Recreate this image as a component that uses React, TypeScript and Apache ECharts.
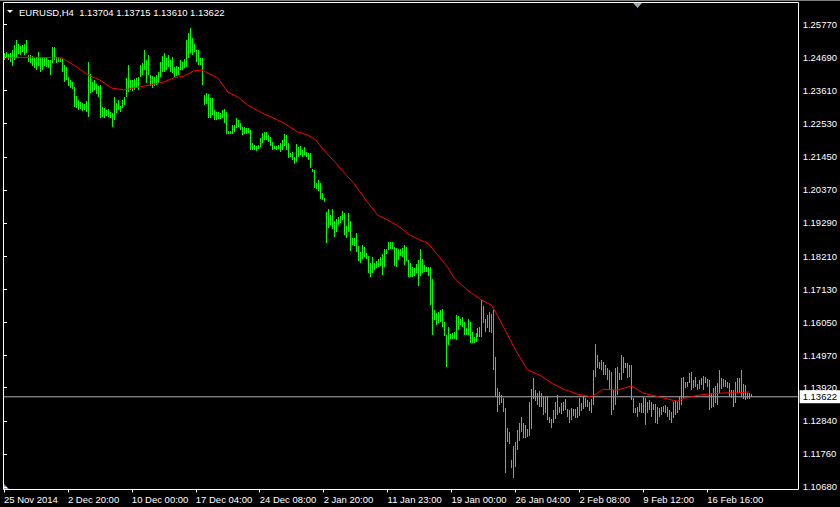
import React, { useEffect, useRef } from "react";
import * as echarts from "echarts";

// H4 bar highs (one per bar, bar index = position in array)
const highs = [
  1.2483, 1.2486, 1.2480, 1.2483, 1.2493, 1.2509, 1.2526, 1.2513, 1.2506, 1.2509,
  1.2513, 1.2526, 1.2477, 1.2477, 1.2473, 1.2467, 1.2470, 1.2486, 1.2467, 1.2467,
  1.2470, 1.2470, 1.2460, 1.2460, 1.2503, 1.2503, 1.2470, 1.2470, 1.2467, 1.2467,
  1.2444, 1.2438, 1.2405, 1.2395, 1.2389, 1.2372, 1.2343, 1.2330, 1.2323, 1.2320,
  1.2317, 1.2327, 1.2454, 1.2415, 1.2389, 1.2395, 1.2382, 1.2376, 1.2379, 1.2307,
  1.2304, 1.2297, 1.2301, 1.2291, 1.2288, 1.2340, 1.2320, 1.2330, 1.2310, 1.2330,
  1.2340, 1.2402, 1.2444, 1.2395, 1.2395, 1.2398, 1.2402, 1.2405, 1.2444, 1.2451,
  1.2493, 1.2460, 1.2477, 1.2411, 1.2408, 1.2405, 1.2411, 1.2421, 1.2454, 1.2473,
  1.2483, 1.2467, 1.2477, 1.2460, 1.2470, 1.2438, 1.2441, 1.2438, 1.2460, 1.2454,
  1.2464, 1.2526, 1.2548, 1.2564, 1.2532, 1.2513, 1.2493, 1.2493, 1.2467, 1.2467,
  1.2346, 1.2353, 1.2350, 1.2336, 1.2336, 1.2297, 1.2291, 1.2291, 1.2288, 1.2297,
  1.2301, 1.2291, 1.2229, 1.2229, 1.2248, 1.2248, 1.2271, 1.2265, 1.2255, 1.2242,
  1.2242, 1.2239, 1.2239, 1.2232, 1.2190, 1.2183, 1.2180, 1.2183, 1.2206, 1.2222,
  1.2225, 1.2225, 1.2216, 1.2209, 1.2193, 1.2180, 1.2180, 1.2183, 1.2190, 1.2199,
  1.2219, 1.2216, 1.2190, 1.2157, 1.2160, 1.2144, 1.2186, 1.2177, 1.2180, 1.2167,
  1.2177, 1.2160, 1.2157, 1.2157, 1.2105, 1.2102, 1.2059, 1.2069, 1.2059, 1.2027,
  1.2010, 1.1965, 1.1974, 1.1955, 1.1974, 1.1935, 1.1942, 1.1948, 1.1952, 1.1968,
  1.1961, 1.1919, 1.1961, 1.1935, 1.1880, 1.1880, 1.1896, 1.1854, 1.1834, 1.1857,
  1.1850, 1.1831, 1.1821, 1.1798, 1.1818, 1.1798, 1.1805, 1.1811, 1.1818, 1.1828,
  1.1844, 1.1844, 1.1867, 1.1867, 1.1867, 1.1850, 1.1847, 1.1844, 1.1844, 1.1847,
  1.1857, 1.1850, 1.1808, 1.1798, 1.1785, 1.1782, 1.1795, 1.1808, 1.1844, 1.1811,
  1.1792, 1.1785, 1.1785, 1.1785, 1.1746, 1.1645, 1.1635, 1.1638, 1.1645, 1.1648,
  1.1606, 1.1564, 1.1590, 1.1567, 1.1570, 1.1573, 1.1629, 1.1625, 1.1616, 1.1622,
  1.1606, 1.1586, 1.1616, 1.1606, 1.1573, 1.1557, 1.1570, 1.1586, 1.1590, 1.1678,
  1.1658, 1.1616, 1.1629, 1.1638, 1.1632, 1.1645, 1.1492, 1.1391, 1.1378, 1.1368,
  1.1358, 1.1325, 1.1260, 1.1247, 1.1156, 1.1201, 1.1215, 1.1254, 1.1277, 1.1296,
  1.1277, 1.1270, 1.1257, 1.1345, 1.1387, 1.1423, 1.1384, 1.1374, 1.1381, 1.1374,
  1.1365, 1.1361, 1.1365, 1.1296, 1.1290, 1.1319, 1.1345, 1.1368, 1.1329, 1.1342,
  1.1345, 1.1355, 1.1322, 1.1319, 1.1325, 1.1322, 1.1322, 1.1329, 1.1358, 1.1342,
  1.1361, 1.1358, 1.1352, 1.1345, 1.1355, 1.1449, 1.1534, 1.1498, 1.1475, 1.1482,
  1.1475, 1.1466, 1.1456, 1.1449, 1.1443, 1.1384, 1.1456, 1.1459, 1.1440, 1.1498,
  1.1492, 1.1472, 1.1472, 1.1466, 1.1466, 1.1358, 1.1325, 1.1329, 1.1342, 1.1342,
  1.1361, 1.1358, 1.1345, 1.1352, 1.1345, 1.1338, 1.1338, 1.1329, 1.1325, 1.1329,
  1.1332, 1.1335, 1.1329, 1.1319, 1.1312, 1.1345, 1.1348, 1.1345, 1.1361, 1.1423,
  1.1427, 1.1410, 1.1410, 1.1440, 1.1443, 1.1417, 1.1427, 1.1404, 1.1417, 1.1423,
  1.1430, 1.1427, 1.1420, 1.1417, 1.1374, 1.1391, 1.1397, 1.1407, 1.1449, 1.1423,
  1.1420, 1.1417, 1.1410, 1.1407, 1.1384, 1.1384, 1.1410, 1.1423, 1.1423, 1.1449,
  1.1404, 1.1400, 1.1374, 1.1374, 1.13715,
];

// H4 bar lows
const lows = [
  1.2460, 1.2467, 1.2460, 1.2454, 1.2441, 1.2460, 1.2467, 1.2480, 1.2477, 1.2486,
  1.2477, 1.2483, 1.2454, 1.2451, 1.2441, 1.2434, 1.2428, 1.2441, 1.2421, 1.2428,
  1.2441, 1.2438, 1.2434, 1.2411, 1.2451, 1.2460, 1.2451, 1.2454, 1.2454, 1.2421,
  1.2389, 1.2395, 1.2376, 1.2369, 1.2366, 1.2307, 1.2304, 1.2297, 1.2301, 1.2294,
  1.2297, 1.2291, 1.2275, 1.2353, 1.2356, 1.2363, 1.2350, 1.2340, 1.2271, 1.2275,
  1.2271, 1.2278, 1.2275, 1.2271, 1.2242, 1.2265, 1.2288, 1.2297, 1.2291, 1.2304,
  1.2314, 1.2340, 1.2356, 1.2363, 1.2359, 1.2363, 1.2369, 1.2363, 1.2405, 1.2411,
  1.2428, 1.2385, 1.2411, 1.2376, 1.2369, 1.2376, 1.2379, 1.2385, 1.2405, 1.2421,
  1.2421, 1.2428, 1.2438, 1.2421, 1.2418, 1.2405, 1.2408, 1.2411, 1.2428, 1.2428,
  1.2434, 1.2438, 1.2467, 1.2483, 1.2477, 1.2486, 1.2454, 1.2444, 1.2444, 1.2379,
  1.2314, 1.2317, 1.2271, 1.2271, 1.2281, 1.2265, 1.2265, 1.2268, 1.2268, 1.2271,
  1.2255, 1.2219, 1.2219, 1.2219, 1.2219, 1.2225, 1.2239, 1.2242, 1.2232, 1.2216,
  1.2219, 1.2219, 1.2222, 1.2167, 1.2167, 1.2167, 1.2164, 1.2170, 1.2177, 1.2190,
  1.2199, 1.2199, 1.2193, 1.2180, 1.2167, 1.2170, 1.2167, 1.2170, 1.2160, 1.2167,
  1.2180, 1.2167, 1.2141, 1.2144, 1.2134, 1.2121, 1.2128, 1.2144, 1.2151, 1.2144,
  1.2151, 1.2144, 1.2134, 1.2108, 1.2095, 1.2043, 1.2040, 1.2033, 1.2007, 1.2004,
  1.1997, 1.1864, 1.1912, 1.1922, 1.1909, 1.1883, 1.1899, 1.1922, 1.1929, 1.1939,
  1.1890, 1.1880, 1.1899, 1.1837, 1.1857, 1.1854, 1.1834, 1.1805, 1.1798, 1.1811,
  1.1818, 1.1811, 1.1766, 1.1753, 1.1766, 1.1775, 1.1782, 1.1785, 1.1789, 1.1759,
  1.1785, 1.1828, 1.1841, 1.1844, 1.1844, 1.1789, 1.1785, 1.1808, 1.1821, 1.1818,
  1.1792, 1.1805, 1.1753, 1.1753, 1.1753, 1.1756, 1.1766, 1.1723, 1.1756, 1.1766,
  1.1769, 1.1769, 1.1756, 1.1661, 1.1564, 1.1612, 1.1596, 1.1603, 1.1606, 1.1590,
  1.1560, 1.1459, 1.1531, 1.1550, 1.1550, 1.1550, 1.1547, 1.1580, 1.1596, 1.1590,
  1.1564, 1.1564, 1.1564, 1.1537, 1.1537, 1.1537, 1.1541, 1.1557, 1.1557, 1.1557,
  1.1603, 1.1573, 1.1586, 1.1573, 1.1570, 1.1449, 1.1361, 1.1312, 1.1335, 1.1342,
  1.1312, 1.1113, 1.1215, 1.1208, 1.1130, 1.1097, 1.1133, 1.1188, 1.1218, 1.1247,
  1.1228, 1.1228, 1.1231, 1.1234, 1.1257, 1.1355, 1.1348, 1.1335, 1.1329, 1.1329,
  1.1303, 1.1309, 1.1286, 1.1277, 1.1260, 1.1277, 1.1290, 1.1303, 1.1309, 1.1306,
  1.1316, 1.1319, 1.1296, 1.1277, 1.1286, 1.1299, 1.1293, 1.1293, 1.1299, 1.1316,
  1.1322, 1.1329, 1.1329, 1.1316, 1.1309, 1.1335, 1.1427, 1.1456, 1.1453, 1.1449,
  1.1433, 1.1433, 1.1417, 1.1384, 1.1303, 1.1319, 1.1335, 1.1368, 1.1417, 1.1417,
  1.1440, 1.1456, 1.1423, 1.1427, 1.1352, 1.1309, 1.1309, 1.1296, 1.1312, 1.1309,
  1.1309, 1.1270, 1.1309, 1.1319, 1.1296, 1.1319, 1.1277, 1.1273, 1.1296, 1.1303,
  1.1312, 1.1309, 1.1296, 1.1286, 1.1277, 1.1293, 1.1303, 1.1309, 1.1319, 1.1335,
  1.1358, 1.1391, 1.1394, 1.1407, 1.1384, 1.1391, 1.1394, 1.1384, 1.1387, 1.1400,
  1.1384, 1.1407, 1.1394, 1.1319, 1.1325, 1.1329, 1.1342, 1.1335, 1.1374, 1.1387,
  1.1394, 1.1394, 1.1391, 1.1361, 1.1358, 1.1329, 1.1342, 1.1374, 1.1374, 1.1361,
  1.1355, 1.1352, 1.1355, 1.1355, 1.13610,
];

// Moving average: [bar index, price]
const maPoints = [
  [0, 1.2467], [13, 1.2470], [29, 1.2467], [35, 1.2444], [42, 1.2412], [48, 1.2395],
  [54, 1.2369], [60, 1.2363], [65, 1.2369], [73, 1.2379], [80, 1.2389], [85, 1.2402],
  [90, 1.2408], [95, 1.2425], [99, 1.2428], [102, 1.2418], [107, 1.2402], [112, 1.2356],
  [117, 1.2340], [122, 1.2314], [129, 1.2288], [135, 1.2271], [140, 1.2255], [147, 1.2226],
  [152, 1.2216], [156, 1.2200], [160, 1.2167], [166, 1.2125], [169, 1.2102], [175, 1.2059],
  [182, 1.1997], [187, 1.1955], [192, 1.1939], [198, 1.1916], [203, 1.1890], [208, 1.1874],
  [212, 1.1864], [217, 1.1825], [222, 1.1785], [225, 1.1753], [228, 1.1733], [232, 1.1710],
  [239, 1.1678], [244, 1.1661], [246, 1.1639], [250, 1.1590], [256, 1.1515], [262, 1.1450],
  [269, 1.1430], [274, 1.1407], [280, 1.1387], [287, 1.1371], [294, 1.1362], [300, 1.1387],
  [307, 1.1384], [314, 1.1397], [320, 1.1374], [326, 1.1365], [334, 1.1352], [337, 1.1348],
  [341, 1.1358], [348, 1.1368], [353, 1.1371], [361, 1.1375], [366, 1.1375], [373, 1.1378],
];

const yTicks = [
  1.2577, 1.2469, 1.2361, 1.2253, 1.2145, 1.2037, 1.1929, 1.1821, 1.1713, 1.1605,
  1.1497, 1.1392, 1.1284, 1.1176, 1.1068,
];

const xTickBars = [0, 32, 64, 96, 128, 160, 192, 224, 256, 288, 320, 352];
const xTickLabels = [
  "25 Nov 2014", "2 Dec 20:00", "10 Dec 00:00", "17 Dec 04:00", "24 Dec 08:00", "2 Jan 20:00",
  "11 Jan 23:00", "19 Jan 00:00", "26 Jan 04:00", "2 Feb 08:00", "9 Feb 12:00", "16 Feb 16:00",
];

const lastPrice = 1.13622;
const titleText = "EURUSD,H4  1.13704 1.13715 1.13610 1.13622";

const FONT = "'Liberation Sans', Arial, sans-serif";
const FS = 9.5;
const X_MIN = -0.25;
const X_MAX = 397.25;
const BAR_GREEN = "#00ff00";

function renderBar(params: any, api: any) {
  const x = api.value(0);
  const p1 = api.coord([x, api.value(1)]);
  const p2 = api.coord([x, api.value(2)]);
  const px = Math.round(p1[0]);
  const top = Math.round(p2[1]);
  const bottom = Math.max(Math.round(p1[1]), top + 1);
  return {
    type: "rect",
    shape: { x: px, y: top, width: 1, height: bottom - top },
    style: { fill: BAR_GREEN, stroke: "none", opacity: 1 },
    emphasisDisabled: true,
  };
}

export default function App() {
  const ref = useRef<HTMLDivElement>(null);

  useEffect(() => {
    if (!ref.current) return;
    const chart = echarts.init(ref.current, undefined, { renderer: "svg" });
    const n = Math.min(highs.length, lows.length);
    const barData = [];
    for (let i = 0; i < n; i++) barData.push([i, lows[i], highs[i]]);

    const option: any = {
      animation: false,
      backgroundColor: "#000",
      grid: { left: 3.5, top: 3.5, width: 795, height: 486, show: false },
      xAxis: {
        type: "value",
        min: X_MIN,
        max: X_MAX,
        axisLine: { show: false },
        splitLine: { show: false },
        axisTick: { show: true, length: 3, lineStyle: { color: "#fff" }, customValues: xTickBars },
        axisLabel: {
          customValues: xTickBars,
          formatter: (v: number) => {
            const k = xTickBars.indexOf(Math.round(v));
            return k >= 0 ? xTickLabels[k] : "";
          },
          color: "#fff",
          fontSize: FS,
          fontFamily: FONT,
          align: "left",
          margin: 5,
        },
      },
      yAxis: {
        type: "value",
        position: "right",
        min: 1.10598,
        max: 1.26448,
        axisLine: { show: false },
        splitLine: { show: false },
        axisTick: { show: true, length: 3, lineStyle: { color: "#fff" }, customValues: yTicks },
        axisLabel: {
          customValues: yTicks,
          formatter: (v: number) => v.toFixed(5),
          color: "#fff",
          fontSize: FS,
          fontFamily: FONT,
          align: "left",
          margin: 5,
        },
      },
      series: [
        {
          type: "line",
          data: [[X_MIN, lastPrice], [X_MAX, lastPrice]],
          symbol: "none",
          silent: true,
          z: 1,
          lineStyle: { color: "#b0b0b0", width: 1 },
          endLabel: {
            show: true,
            formatter: lastPrice.toFixed(5),
            color: "#000",
            backgroundColor: "#fff",
            padding: [2, 3, 1, 3],
            fontSize: FS,
            fontFamily: FONT,
            distance: 2,
          },
        },
        {
          type: "custom",
          data: barData,
          encode: { x: 0, y: [1, 2] },
          silent: true,
          progressive: 0,
          z: 3,
          itemStyle: { color: BAR_GREEN, opacity: 1 },
          emphasis: { disabled: true },
          renderItem: renderBar,
        },
        {
          type: "line",
          data: maPoints,
          symbol: "none",
          silent: true,
          z: 4,
          lineStyle: { color: "#ff0000", width: 1 },
        },
      ],
      graphic: [
        { type: "line", shape: { x1: 0, y1: 0.5, x2: 840, y2: 0.5 }, style: { stroke: "#808080", lineWidth: 1 } },
        {
          type: "rect",
          shape: { x: 3.5, y: 2.5, width: 795, height: 487 },
          style: { fill: "none", stroke: "#fff", lineWidth: 1 },
          z: 100,
        },
        { type: "polygon", shape: { points: [[7, 10], [13, 10], [10, 13]] }, style: { fill: "#fff" } },
        {
          type: "text",
          x: 19,
          y: 12,
          style: { text: titleText, fill: "#fff", fontSize: FS, fontFamily: FONT, verticalAlign: "middle" },
        },
        { type: "polygon", shape: { points: [[633, 3], [642, 3], [637.5, 8]] }, style: { fill: "#9aa6b2" } },
        { type: "polygon", shape: { points: [[4, 484], [4, 489], [9, 489]] }, style: { fill: "#9aa6b2" } },
      ],
    };
    chart.setOption(option);
    return () => chart.dispose();
  }, []);

  return (
    <div
      ref={ref}
      style={{ position: "fixed", left: 0, top: 0, width: 840, height: 507, background: "#000" }}
    />
  );
}
